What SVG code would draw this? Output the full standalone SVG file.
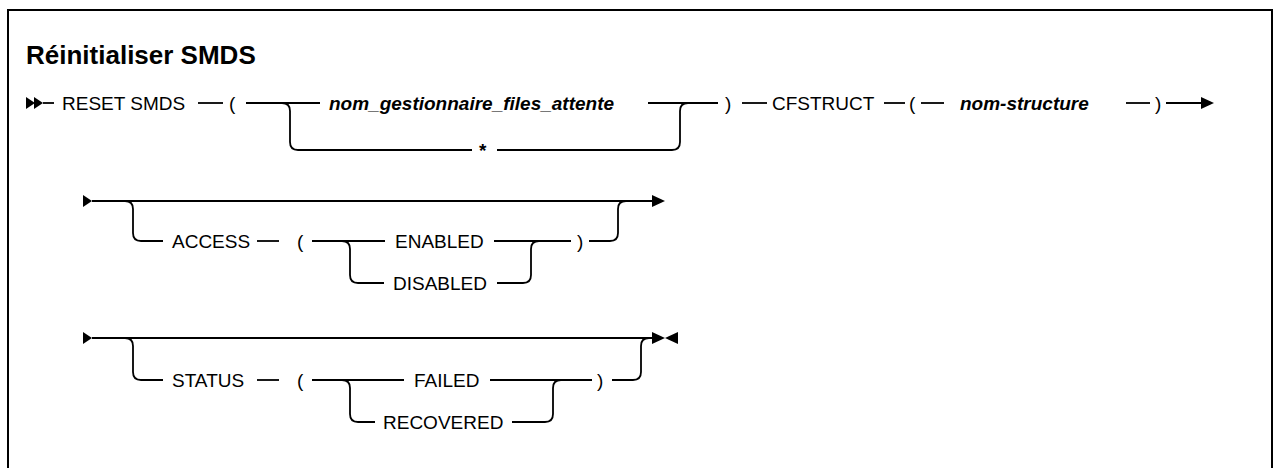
<svg xmlns="http://www.w3.org/2000/svg" width="1274" height="468" viewBox="0 0 1274 468">
<style>
.t{font-family:"Liberation Sans",Arial,sans-serif;font-size:19px;fill:#000}
.v{font-weight:bold;font-style:italic}
.b{font-weight:bold}
.h{font-family:"Liberation Sans",Arial,sans-serif;font-size:26px;font-weight:bold;fill:#000}
.c{fill:none;stroke:#000;stroke-width:1.8}
.a{fill:#000}
</style>
<rect width="1274" height="468" fill="#fff"/>
<path d="M8,475 V10 H1272 V475" fill="none" stroke="#000" stroke-width="2"/>
<text class="h" x="26" y="64">Réinitialiser SMDS</text>
<g id="connectors">
  <!-- row 1 -->
  <polygon class="a" points="26,97 26,109 35,103"/>
  <polygon class="a" points="34,97 34,109 43,103"/>
  <path class="c" d="M43,103 H54"/>
  <path class="c" d="M198,103 H223"/>
  <path class="c" d="M246,103 H320"/>
  <path class="c" d="M282,103 Q290,103 290,111 V142 Q290,150 298,150 H472"/>
  <path class="c" d="M497,150 H672 Q680,150 680,142 V111 Q680,103 688,103"/>
  <path class="c" d="M648,103 H718"/>
  <path class="c" d="M742,103 H767"/>
  <path class="c" d="M884,103 H905"/>
  <path class="c" d="M921,103 H944"/>
  <path class="c" d="M1126,103 H1150"/>
  <path class="c" d="M1166,103 H1202"/>
  <polygon class="a" points="1201,97 1201,109 1214,103"/>
  <!-- row 2 -->
  <polygon class="a" points="83,195 83,207 92,201"/>
  <path class="c" d="M92,201 H653"/>
  <polygon class="a" points="652,195 652,207 665,201"/>
  <path class="c" d="M125,201 Q133,201 133,209 V233 Q133,241 141,241 H163"/>
  <path class="c" d="M257,241 H279"/>
  <path class="c" d="M312,241 H385"/>
  <path class="c" d="M342,241 Q350,241 350,249 V275 Q350,283 358,283 H384"/>
  <path class="c" d="M494,241 H571"/>
  <path class="c" d="M497,283 H523 Q531,283 531,275 V249 Q531,241 539,241"/>
  <path class="c" d="M589,241 H610 Q618,241 618,233 V209 Q618,201 626,201"/>
  <!-- row 3 -->
  <polygon class="a" points="83,332 83,344 92,338"/>
  <path class="c" d="M92,338 H653"/>
  <polygon class="a" points="652,332 652,344 665,338"/>
  <polygon class="a" points="678,332 678,344 665,338"/>
  <path class="c" d="M125,338 Q133,338 133,346 V372 Q133,380 141,380 H163"/>
  <path class="c" d="M257,380 H279"/>
  <path class="c" d="M312,380 H404"/>
  <path class="c" d="M342,380 Q350,380 350,388 V414 Q350,422 358,422 H375"/>
  <path class="c" d="M490,380 H592"/>
  <path class="c" d="M512,422 H545 Q553,422 553,414 V388 Q553,380 561,380"/>
  <path class="c" d="M612,380 H633 Q641,380 641,372 V346 Q641,338 649,338"/>
</g>
<g id="n-reset"><text class="t" x="62" y="110">RESET SMDS</text></g>
<g id="n-lp1"><text class="t" x="229" y="110">(</text></g>
<g id="n-qmgr"><text class="t v" x="329" y="110">nom_gestionnaire_files_attente</text></g>
<g id="n-star"><text class="t b" x="479" y="157">*</text></g>
<g id="n-rp1"><text class="t" x="725" y="110">)</text></g>
<g id="n-cfstruct"><text class="t" x="772" y="110">CFSTRUCT</text></g>
<g id="n-lp2"><text class="t" x="909" y="110">(</text></g>
<g id="n-struct"><text class="t v" x="960" y="110">nom-structure</text></g>
<g id="n-rp2"><text class="t" x="1155" y="110">)</text></g>
<g id="n-access"><text class="t" x="172" y="248">ACCESS</text></g>
<g id="n-lp3"><text class="t" x="297" y="248">(</text></g>
<g id="n-enabled"><text class="t" x="395" y="248">ENABLED</text></g>
<g id="n-disabled"><text class="t" x="393" y="290">DISABLED</text></g>
<g id="n-rp3"><text class="t" x="577" y="248">)</text></g>
<g id="n-status"><text class="t" x="172" y="387">STATUS</text></g>
<g id="n-lp4"><text class="t" x="297" y="387">(</text></g>
<g id="n-failed"><text class="t" x="414" y="387">FAILED</text></g>
<g id="n-recovered"><text class="t" x="383" y="429">RECOVERED</text></g>
<g id="n-rp4"><text class="t" x="597" y="387">)</text></g>
</svg>
